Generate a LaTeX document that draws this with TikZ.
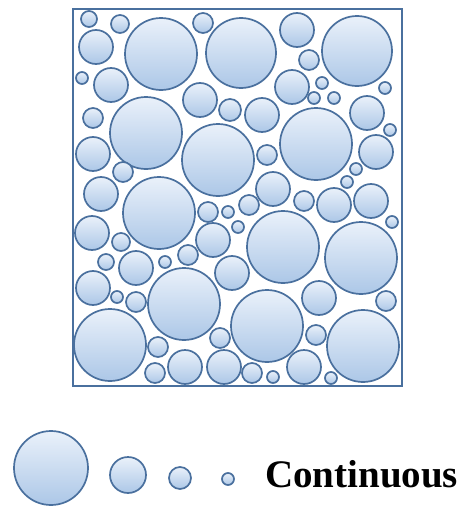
\documentclass[tikz,border=0pt]{standalone}
\usepackage{fontspec}
\setmainfont{Liberation Serif}
\definecolor{edgeblue}{RGB}{74,112,158}
\definecolor{toplight}{RGB}{234,241,250}
\definecolor{botblue}{RGB}{172,199,231}
\tikzset{
  bubble/.style={draw=edgeblue, line width=1.7pt, top color=toplight, bottom color=botblue},
  frame/.style={draw=edgeblue, line width=1.6pt}
}
\begin{document}
\begin{tikzpicture}[x=1pt,y=-1pt]
\useasboundingbox (0,0) rectangle (464,506);
\draw[frame] (73,9) rectangle (402,386);
\foreach \cx/\cy/\r in {
 89/19/8, 120/24/9, 161/54/36, 203/23/10, 241/53/35, 297/30/17, 357/51/35,
 96/47/17, 309/60/10, 82/78/6, 111/85/17, 200/100/17, 230/110/11, 262/115/17,
 292/87/17, 322/83/6, 314/98/6, 334/98/6, 385/88/6, 367/113/17, 390/130/6,
 146/133/36, 93/118/10, 218/160/36, 267/155/10, 316/144/36, 376/152/17,
 93/154/17, 123/172/10, 356/169/6, 347/182/6, 273/189/17, 304/201/10,
 334/205/17, 371/201/17, 101/194/17, 159/213/36, 208/212/10, 228/212/6,
 249/205/10, 238/227/6, 213/240/17, 392/222/6, 92/233/17, 121/242/9,
 283/247/36, 361/258/36, 106/262/8, 136/268/17, 165/262/6, 188/255/10,
 232/273/17, 93/288/17, 117/297/6, 136/302/10, 184/304/36, 319/298/17,
 386/301/10, 110/345/36, 267/326/36, 158/347/10, 220/338/10, 316/335/10,
 363/346/36, 185/367/17, 155/373/10, 224/367/17, 252/373/10, 273/377/6,
 304/367/17, 331/378/6}
  \path[bubble] (\cx,\cy) circle[radius=\r];
\foreach \cx/\cy/\r in {51/468/37, 128/475/18, 180/478/11, 228/479/6}
  \path[bubble] (\cx,\cy) circle[radius=\r];
\node[anchor=base west, inner sep=0pt, font=\bfseries\fontsize{39}{44}\selectfont] (lbl) at (265,487) {Continuous};
\end{tikzpicture}
\end{document}
